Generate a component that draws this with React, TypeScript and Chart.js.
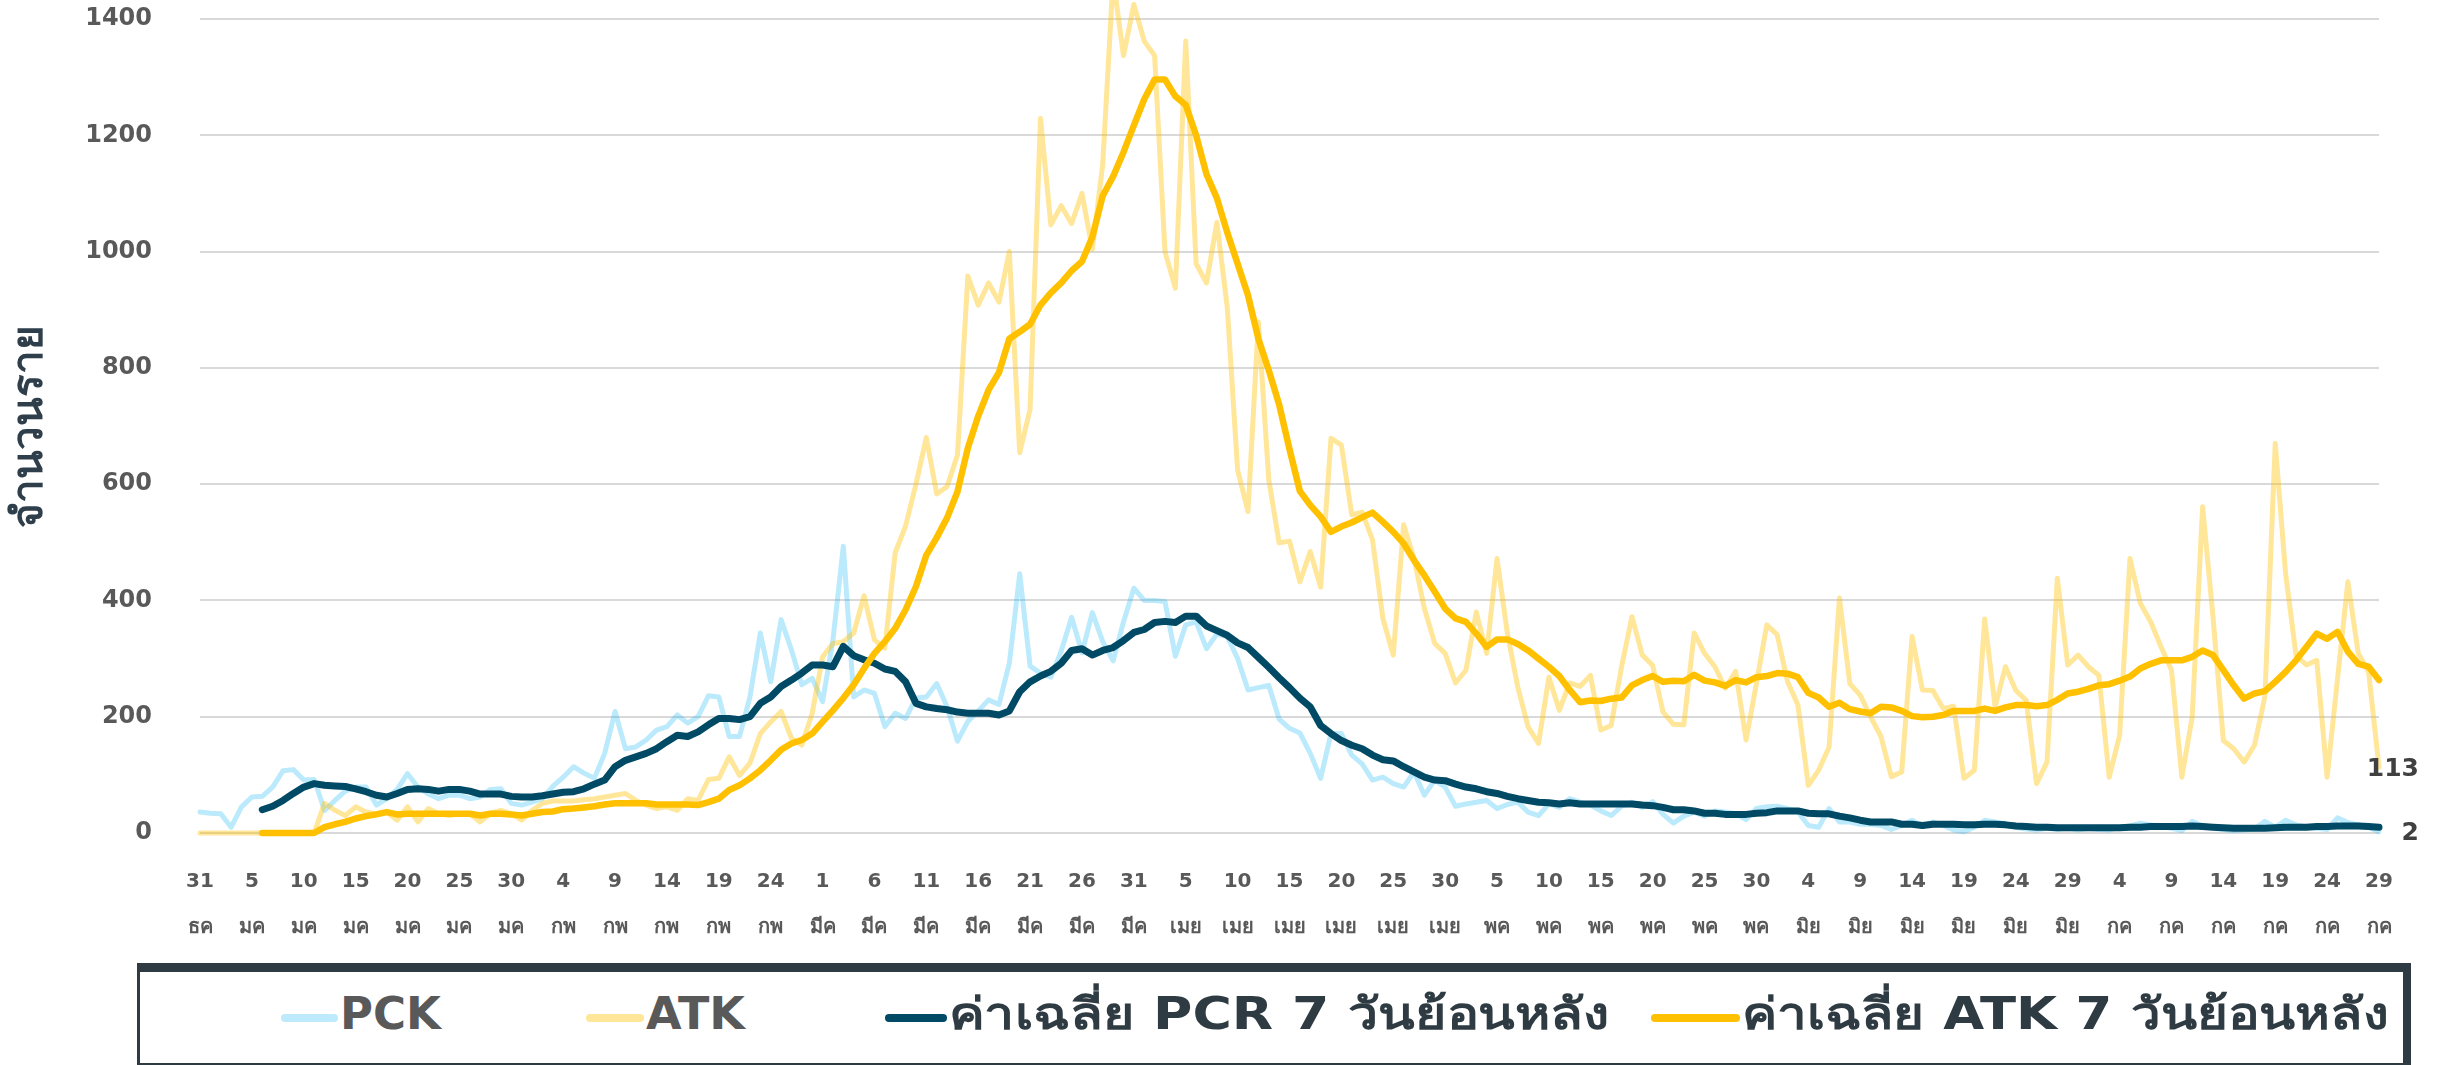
import React, { useEffect, useRef } from "react";
import { Chart, registerables } from "chart.js";

Chart.register(...registerables);

// ---- categories (daily, 31 Dec -> 29 Jul) ----
const monthNames = ["ธค", "มค", "กพ", "มีค", "เมย", "พค", "มิย", "กค"];
const monthFirstDay = [31, 1, 1, 1, 1, 1, 1, 1];
const monthLastDay = [31, 31, 28, 31, 30, 31, 30, 29];
const dayLabels: string[] = [];
const monthLabels: string[] = [];
monthNames.forEach((m, i) => {
  for (let d = monthFirstDay[i]; d <= monthLastDay[i]; d++) {
    dayLabels.push(String(d));
    monthLabels.push(m);
  }
});
const categories = dayLabels.map((d, i) => d + " " + monthLabels[i]);
const tickEvery = 5;

// ---- series ----
const pck = [
  36, 34, 33, 10, 45, 62, 63, 79, 107, 109, 91, 92, 39, 56, 72, 79, 79, 48, 59, 75,
  102, 79, 67, 59, 65, 65, 59, 62, 75, 76, 51, 48, 53, 59, 80, 96,
  114, 103, 94, 137, 209, 145, 148, 160, 177, 183, 203, 189, 200, 236, 234, 166, 166, 234, 344,
  260, 367, 315, 255, 266, 226, 332, 493, 234, 246, 240, 183, 206, 197, 232, 234,
  257, 217, 158, 192, 210, 229, 221, 292, 446, 287, 275, 268, 313, 371, 310, 379, 329, 296,
  363, 421, 400, 400, 398, 304, 358, 363, 317, 342, 338, 300, 246, 250, 254, 196,
  180, 172, 137, 94, 171, 171, 134, 119, 91, 96, 85, 79, 105, 65, 91, 79, 46, 50, 53, 56,
  42, 49, 53, 36, 30, 50, 44, 59, 53, 48, 38, 30, 46, 53, 44, 54, 32,
  17, 29, 36, 29, 38, 36, 33, 23, 42, 45, 46, 42, 36, 13, 10, 42, 19, 19, 15, 15,
  13, 6, 13, 22, 11, 19, 13, 5, 2, 10, 22, 19, 16, 10, 7,
  5, 8, 6, 9, 5, 8, 6, 5, 10, 12, 17, 14, 12, 8, 4, 20, 12, 8, 6, 4,
  5, 7, 20, 10, 22, 14, 11, 8, 6, 26, 18, 14, 10, 2,
];

const atk = [
  0, 0, 0, 0, 0, 0, 0, 0, 0, 0, 0, 0,
  51, 39, 30, 45, 36, 33, 36, 22, 45, 19, 42, 33, 30, 33, 33, 19, 34, 39, 33, 22, 39, 51, 55, 55,
  55, 57, 59, 62, 65, 68, 56, 48, 42, 45, 39, 59, 56, 92, 94, 131, 99, 120, 171, 191,
  209, 163, 151, 206, 303, 326, 329, 344, 408, 332, 318, 482, 528, 600, 680,
  583, 596, 650, 958, 908, 946, 913, 1000, 654, 729, 1229, 1046, 1079, 1048, 1100, 1004, 1150, 1470,
  1337, 1425, 1362, 1337, 1000, 937, 1362, 979, 946, 1050, 904, 624, 553, 879, 608, 499, 502,
  432, 484, 423, 679, 667, 547, 552, 504, 369, 306, 530, 472, 386, 326, 309, 258, 280, 380,
  309, 472, 343, 251, 182, 154, 268, 211, 258, 252, 271, 177, 185, 286, 372, 306, 288, 208,
  187, 186, 344, 309, 286, 249, 278, 160, 257, 358, 341, 260, 220, 82, 108, 148, 404, 257,
  237, 200, 166, 97, 105, 338, 246, 245, 214, 218, 94, 108, 368, 217, 286, 245, 228,
  85, 122, 438, 289, 306, 286, 271, 96, 168, 472, 395, 363, 320, 280, 96, 200, 561, 372,
  159, 145, 122, 151, 234, 670, 446, 306, 289, 297, 96, 265, 432, 309, 277, 113,
];

const pcrAvg = [
  null, null, null, null, null, null,
  40, 46, 56, 68, 79, 85, 82, 81, 80, 76, 71, 65, 62, 68, 75, 76, 75, 72, 75, 75, 72, 67, 67, 67,
  63, 62, 62, 64, 67, 70,
  71, 76, 84, 91, 114, 125, 131, 137, 145, 157, 168, 166, 174, 186, 197, 197, 195, 200, 223,
  234, 252, 263, 275, 289, 289, 286, 321, 305, 298, 292, 282, 278, 260, 223, 217,
  214, 212, 208, 206, 206, 206, 203, 210, 243, 260, 270, 278, 292, 314, 317, 306, 314, 319,
  331, 345, 350, 362, 364, 362, 373, 373, 356, 348, 340, 327, 319, 302, 285, 267, 250,
  232, 217, 185, 171, 159, 151, 145, 134, 126, 124, 114, 105, 96, 91, 90, 84, 79, 76, 71,
  68, 63, 59, 56, 53, 52, 50, 52, 50, 50, 50, 50, 50, 50, 48, 47, 44,
  40, 40, 38, 34, 34, 32, 32, 32, 34, 35, 38, 38, 38, 34, 33, 33, 29, 26, 22, 19,
  19, 19, 15, 15, 13, 15, 15, 15, 14, 14, 15, 15, 14, 12, 11,
  10, 10, 9, 9, 9, 9, 9, 9, 9, 10, 10, 11, 11, 11, 11, 12, 11, 10, 9, 8,
  8, 8, 8, 9, 10, 10, 10, 11, 11, 12, 12, 12, 11, 10,
];

const atkAvg = [
  null, null, null, null, null, null,
  0, 0, 0, 0, 0, 0, 10, 15, 19, 25, 29, 32, 36, 32, 33, 33, 33, 33, 33, 33, 33, 30, 33, 33,
  32, 30, 33, 36, 37, 41,
  42, 44, 46, 49, 51, 51, 51, 51, 49, 49, 49, 49, 48, 53, 59, 74, 82, 94, 108,
  125, 143, 154, 160, 171, 191, 211, 232, 255, 283, 309, 329, 352, 384, 424, 478,
  508, 542, 587, 662, 717, 762, 792, 850, 862, 875, 908, 929, 946, 967, 983, 1025, 1096, 1129,
  1171, 1217, 1262, 1296, 1296, 1267, 1252, 1200, 1133, 1092, 1033, 979, 925, 850, 796, 737, 660,
  588, 564, 544, 518, 527, 534, 543, 551, 535, 518, 498, 469, 443, 415, 386, 369, 363, 343,
  320, 333, 333, 325, 314, 300, 286, 270, 246, 225, 228, 227, 231, 233, 254, 263, 270, 260,
  262, 261, 272, 262, 259, 253, 263, 259, 268, 270, 275, 274, 268, 241, 233, 217, 224, 213,
  209, 206, 217, 216, 210, 201, 199, 200, 203, 210, 210, 210, 214, 210, 216, 220, 220,
  218, 220, 229, 240, 243, 248, 254, 256, 262, 269, 283, 291, 297, 297, 297, 303, 314, 306,
  280, 254, 231, 240, 244, 260, 277, 297, 320, 343, 334, 346, 312, 291, 286, 263,
];

const seriesNames = ["PCK", "ATK", "ค่าเฉลี่ย PCR 7 วันย้อนหลัง", "ค่าเฉลี่ย ATK 7 วันย้อนหลัง"];
const yTitle = "จำนวนราย";

const FONT = "'DejaVu Sans', 'Noto Sans', sans-serif";
const C_PCK = "rgba(0,176,240,0.27)";
const C_ATK = "rgba(255,192,0,0.4)";
const C_PCR_AVG = "#014a65";
const C_ATK_AVG = "#ffc000";

const endLabels = {
  id: "endLabels",
  afterDatasetsDraw(chart: any) {
    const ctx = chart.ctx;
    [0, 1].forEach((i) => {
      const meta = chart.getDatasetMeta(i);
      const last = meta.data.length - 1;
      const pt = meta.data[last];
      const val = chart.data.datasets[i].data[last];
      ctx.save();
      ctx.font = "bold 25px " + FONT;
      ctx.fillStyle = "#404040";
      ctx.textAlign = "right";
      ctx.textBaseline = "middle";
      ctx.fillText(String(val), chart.chartArea.right + 40, pt.y + 2);
      ctx.restore();
    });
  },
};

type Item = { lineLeft: number; left: number; right: number; color: string; text: string; textColor: string };
const legendItems: Item[] = [
  { lineLeft: 281, left: 340, right: 441, color: "#bdebfd", text: seriesNames[0], textColor: "#595959" },
  { lineLeft: 586, left: 646, right: 745, color: "#ffe699", text: seriesNames[1], textColor: "#595959" },
  { lineLeft: 885, left: 949, right: 1609, color: C_PCR_AVG, text: seriesNames[2], textColor: "#2f3b42" },
  { lineLeft: 1651, left: 1742, right: 2388, color: C_ATK_AVG, text: seriesNames[3], textColor: "#2f3b42" },
];

export default function App() {
  const canvasRef = useRef<HTMLCanvasElement | null>(null);
  const textRefs = useRef<(HTMLDivElement | null)[]>([]);

  useEffect(() => {
    // stretch legend texts to the reference widths
    textRefs.current.forEach((el, i) => {
      if (!el) return;
      el.style.transform = "none";
      const w = el.getBoundingClientRect().width;
      const target = legendItems[i].right - legendItems[i].left;
      if (w > 0) el.style.transform = "scaleX(" + target / w + ")";
    });

    if (!canvasRef.current) return;
    const chart = new Chart(canvasRef.current, {
      type: "line",
      data: {
        labels: categories,
        datasets: [
          { label: seriesNames[0], data: pck, borderColor: C_PCK, borderWidth: 5, order: 4 },
          { label: seriesNames[1], data: atk, borderColor: C_ATK, borderWidth: 5, order: 3 },
          { label: seriesNames[2], data: pcrAvg, borderColor: C_PCR_AVG, borderWidth: 7, order: 2 },
          { label: seriesNames[3], data: atkAvg, borderColor: C_ATK_AVG, borderWidth: 6.5, order: 1 },
        ] as any,
      },
      options: {
        animation: false,
        responsive: false,
        devicePixelRatio: 1,
        layout: { padding: { left: 0, right: 71, top: 19, bottom: 0 } },
        elements: {
          point: { radius: 0, hoverRadius: 0 },
          line: { tension: 0, borderJoinStyle: "round", borderCapStyle: "round", fill: false },
        },
        datasets: { line: { clip: false as any } },
        plugins: {
          legend: { display: false },
          tooltip: { enabled: false },
        },
        scales: {
          x: {
            type: "category",
            grid: { display: false },
            border: { display: false },
            afterFit: (s: any) => {
              s.height = 127;
            },
            ticks: {
              autoSkip: false,
              maxRotation: 0,
              minRotation: 0,
              padding: 18,
              color: "#595959",
              font: { family: FONT, size: 20, weight: "bold", lineHeight: 2.3 },
              callback: (_v: any, index: number) =>
                index % tickEvery === 0 ? [dayLabels[index], monthLabels[index]] : null,
            },
          },
          y: {
            min: 0,
            max: 1400,
            grid: { color: "#d9d9d9", lineWidth: 2, drawTicks: false },
            border: { display: false },
            afterFit: (s: any) => {
              s.width = 200;
              s.paddingTop = 0;
              s.paddingBottom = 0;
            },
            ticks: {
              stepSize: 200,
              padding: 48,
              color: "#595959",
              font: { family: FONT, size: 24, weight: "bold" },
              callback: (v: any) => String(v),
            },
            title: {
              display: true,
              text: yTitle,
              color: "#2e3e4a",
              font: { family: FONT, size: 42, weight: "bold" },
              padding: { top: 6, bottom: 0 },
            },
          },
        },
      },
      plugins: [endLabels],
    });
    return () => chart.destroy();
  }, []);

  return (
    <div style={{ position: "absolute", left: 0, top: 0, width: 2450, height: 1065, background: "#fff", overflow: "hidden" }}>
      <canvas ref={canvasRef} width={2450} height={960} style={{ position: "absolute", left: 0, top: 0, width: 2450, height: 960 }} />
      <div
        style={{
          position: "absolute",
          left: 137,
          top: 963,
          width: 2411 - 137,
          height: 1065 - 963 + 2,
          boxSizing: "border-box",
          borderStyle: "solid",
          borderColor: "#2f3b42",
          borderTopWidth: 9,
          borderLeftWidth: 3,
          borderRightWidth: 8,
          borderBottomWidth: 4,
        }}
      />
      {legendItems.map((it, i) => (
        <React.Fragment key={i}>
          <div
            style={{
              position: "absolute",
              left: it.lineLeft,
              top: 1014,
              width: it.left - it.lineLeft - 2,
              height: 8,
              borderRadius: 4,
              background: it.color,
            }}
          />
          <div
            ref={(el) => {
              textRefs.current[i] = el;
            }}
            style={{
              position: "absolute",
              left: it.left,
              top: 986,
              fontFamily: FONT,
              fontWeight: "bold",
              fontSize: 44,
              lineHeight: "56px",
              whiteSpace: "nowrap",
              color: it.textColor,
              transformOrigin: "0 0",
            }}
          >
            {it.text}
          </div>
        </React.Fragment>
      ))}
    </div>
  );
}
